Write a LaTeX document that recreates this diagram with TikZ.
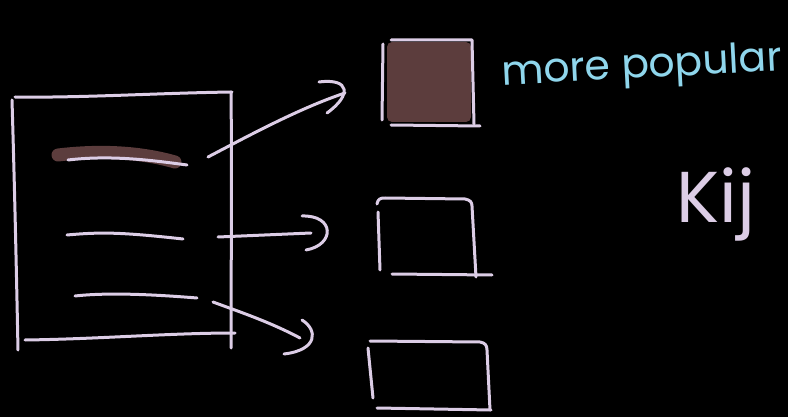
\documentclass[tikz,border=0pt]{standalone}
\usepackage{fontspec}
\setmainfont{Poppins}
\definecolor{lav}{HTML}{DCCDE6}
\definecolor{brn}{HTML}{5C3D3D}
\definecolor{sky}{HTML}{8FD6EC}
\tikzset{
  pen/.style={draw=lav, line width=3pt, line cap=round, line join=round},
  hl/.style={draw=brn, line width=13pt, line cap=round},
  head/.style={draw=lav, line width=3pt, line cap=round}
}
\begin{document}
\begin{tikzpicture}[x=1pt,y=-1pt]
\fill[black] (0,0) rectangle (788,417);
\useasboundingbox (0,0) rectangle (788,417);

% document
\draw[pen] (12,100) .. controls (15,200) and (17,300) .. (18,350);
\draw[pen] (15,97) .. controls (80,98) and (160,93) .. (232,92);
\draw[pen] (231,92) .. controls (232,180) and (231,270) .. (231,348);
\draw[pen] (25,340) .. controls (100,339) and (170,333) .. (235,333);

% highlight and lines
\draw[hl] (58,155) .. controls (100,150) and (140,152) .. (175,162);
\coordinate (l1s) at (68,160); \coordinate (l1e) at (187,165);
\coordinate (l2s) at (67,235); \coordinate (l2e) at (183,239);
\coordinate (l3s) at (75,296); \coordinate (l3e) at (197,298);
\draw[pen] (l1s) .. controls (110,155) and (150,160) .. (l1e);
\draw[pen] (l2s) .. controls (100,232) and (120,232) .. (l2e);
\draw[pen] (l3s) .. controls (110,292) and (160,295) .. (l3e);

% boxes
\node[fill=brn, minimum width=84pt, minimum height=80pt, inner sep=0pt, rounded corners=5pt] (b1) at (429,82) {};
\draw[pen] (383,44) -- (382,120);
\draw[pen] (391,40) -- (472,40) -- (474,124);
\draw[pen] (391,125) -- (480,126);

\node[minimum width=96pt, minimum height=76pt, inner sep=0pt] (b2) at (428,237) {};
\draw[pen] (378,212) -- (380,270);
\draw[pen] (377,204) .. controls (378,199) and (380,198) .. (385,198) -- (465,199) .. controls (470,200) and (472,202) .. (472,206) -- (476,277);
\draw[pen] (392,274) -- (492,275);

\node[minimum width=118pt, minimum height=70pt, inner sep=0pt] (b3) at (429,375) {};
\draw[pen] (368,348) -- (373,398);
\draw[pen] (370,341) -- (480,342) .. controls (485,343) and (487,345) .. (487,350) -- (490,410);
\draw[pen] (377,408) -- (491,410);

% arrows
\coordinate (a1s) at (208,157); \coordinate (a1e) at (345,93);
\coordinate (a2s) at (218,237); \coordinate (a2e) at (311,233);
\coordinate (a3s) at (213,302); \coordinate (a3e) at (300,338);
\draw[pen] (a1s) .. controls (250,135) and (300,108) .. (a1e);
\draw[head] (319,82) .. controls (350,78) and (352,95) .. (327,113);
\draw[pen] (a2s) -- (a2e);
\draw[head] (302,216) .. controls (335,215) and (335,245) .. (306,250);
\draw[pen] (a3s) .. controls (240,312) and (270,322) .. (a3e);
\draw[head] (302,320) .. controls (318,330) and (318,350) .. (284,354);

% texts
\node[text=sky, font=\fontsize{41}{41}\selectfont, rotate=3, inner sep=0pt] (t1) at (642,68) {more popular};
\node[text=lav, font=\fontsize{72}{72}\selectfont, inner sep=0pt] (t2) at (716,204) {Kij};
\end{tikzpicture}
\end{document}
